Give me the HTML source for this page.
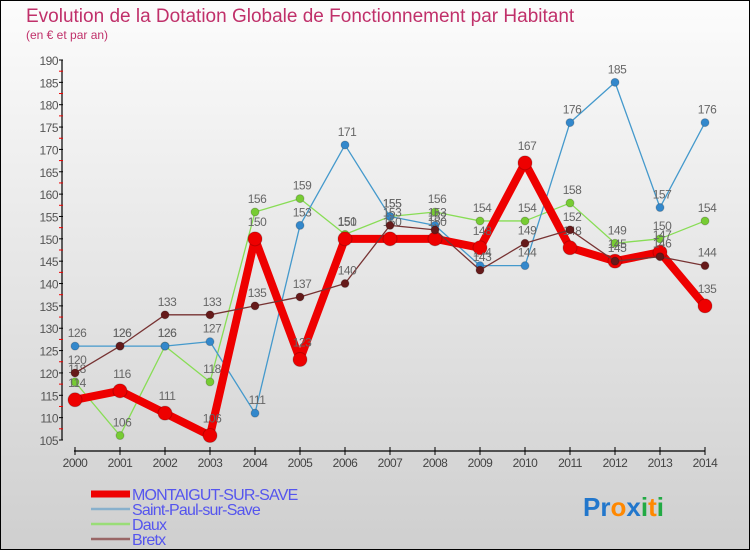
<!DOCTYPE html>
<html><head><meta charset="utf-8"><style>
body{margin:0;}
#wrap{position:relative;width:748px;height:548px;border:1px solid #000;background:linear-gradient(#fcfcfc,#cfcfcf);overflow:hidden;font-family:"Liberation Sans","DejaVu Sans",sans-serif;}
svg text{font-family:"Liberation Sans","DejaVu Sans",sans-serif;}
</style></head><body>
<div id="wrap">
<svg id="chart" width="748" height="548"></svg>
</div>
<script>
const years=["2000","2001","2002","2003","2004","2005","2006","2007","2008","2009","2010","2011","2012","2013","2014"];
const montaigut=[114,116,111,106,150,123,150,150,150,148,167,148,145,147,135];
const saintPaul=[126,126,126,127,111,153,171,155,153,144,144,176,185,157,176];
const daux=[118,106,126,118,156,159,151,155,156,154,154,158,149,150,154];
const bretx=[120,126,133,133,135,137,140,153,152,143,149,152,145,146,144];
const yTicks=[105,110,115,120,125,130,135,140,145,150,155,160,165,170,175,180,185,190];
const seriesNames=["MONTAIGUT-SUR-SAVE","Saint-Paul-sur-Save","Daux","Bretx"];

const NS="http://www.w3.org/2000/svg";
const svg=document.getElementById('chart');
function xS(i){return 74+i*45;}
function yS(v){return 59+(190-v)*380/85;}
function el(t,a,p){const e=document.createElementNS(NS,t);for(const k in a)e.setAttribute(k,a[k]);(p||svg).appendChild(e);return e;}

let t=el('text',{x:25,y:21,'font-size':19,fill:'#c0306a'});t.textContent="Evolution de la Dotation Globale de Fonctionnement par Habitant";


t=el('text',{x:25,y:38,'font-size':12,fill:'#c0306a'});t.textContent="(en € et par an)";



let ax=el('line',{x1:61,y1:yS(190),x2:61,y2:yS(105),stroke:'#000','stroke-width':1.2});


yTicks.forEach((v,i)=>{
 el('line',{x1:58,y1:yS(v),x2:62,y2:yS(v),stroke:'#000'});
 if(i<yTicks.length-1) el('line',{x1:58,y1:yS(v+2.5),x2:62,y2:yS(v+2.5),stroke:'#e00'});
 const l=el('text',{x:57,y:yS(v)+5,'font-size':12,fill:'#555','text-anchor':'end','letter-spacing':'-0.5'});
 l.textContent=v;
 
 
});
ax=el('line',{x1:xS(0)-1,y1:450,x2:xS(14),y2:450,stroke:'#000','stroke-width':1.2});


years.forEach((y,i)=>{
 el('line',{x1:xS(i),y1:446,x2:xS(i),y2:454,stroke:'#000'});
 const l=el('text',{x:xS(i),y:466,'font-size':12,fill:'#444','text-anchor':'middle','letter-spacing':'-0.5'});
 l.textContent=y;
 
 
});

function series(data,color,w,r,stroke,name){
 const g=el('g',{});
 
 
 el('polyline',{points:data.map((v,i)=>xS(i)+','+yS(v)).join(' '),fill:'none',stroke:color,'stroke-width':w,'stroke-linejoin':'round'},g);
 data.forEach((v,i)=>{
  const c=el('circle',{cx:xS(i),cy:yS(v),r:r,fill:stroke,stroke:'#0003'},g);
  
  
  const l=el('text',{x:xS(i)+2,y:yS(v)-9-(r>5?4:0),'font-size':12,fill:'#666','text-anchor':'middle','letter-spacing':'-0.5'},g);
  l.textContent=v;
  
  
 });
}
series(daux,'#88dd55',1.3,4,'#77cc33','series-daux');
series(saintPaul,'#4499cc',1.3,4,'#3388cc','series-saint-paul');
series(montaigut,'#ee0000',8,7,'#ee0000','series-montaigut');
series(bretx,'#773333',1.3,4,'#661a1a','series-bretx');

const lc=['#ee0000','#88b0cc','#99dd77','#996666'];
const lw=[7,2.5,2.5,2.5];
seriesNames.forEach((n,i)=>{
 const y=493+i*15;
 const g=el('g',{});
 
 
 el('line',{x1:90,y1:y,x2:129,y2:y,stroke:lc[i],'stroke-width':lw[i]},g);
 const l=el('text',{x:131,y:y+6,'font-size':16,fill:'#5555ee','letter-spacing':'-0.8'},g);
 l.textContent=n;
});
const lg=el('text',{x:582,y:515,'font-size':26,'font-weight':'bold'});


[['P','#2277cc'],['r','#2277cc'],['o','#ff8800'],['x','#2277cc'],['i','#22aa44'],['t','#ff8800'],['i','#22aa44']].forEach(([c,f])=>{const s=el('tspan',{fill:f},lg);s.textContent=c;});
</script>
</body></html>
